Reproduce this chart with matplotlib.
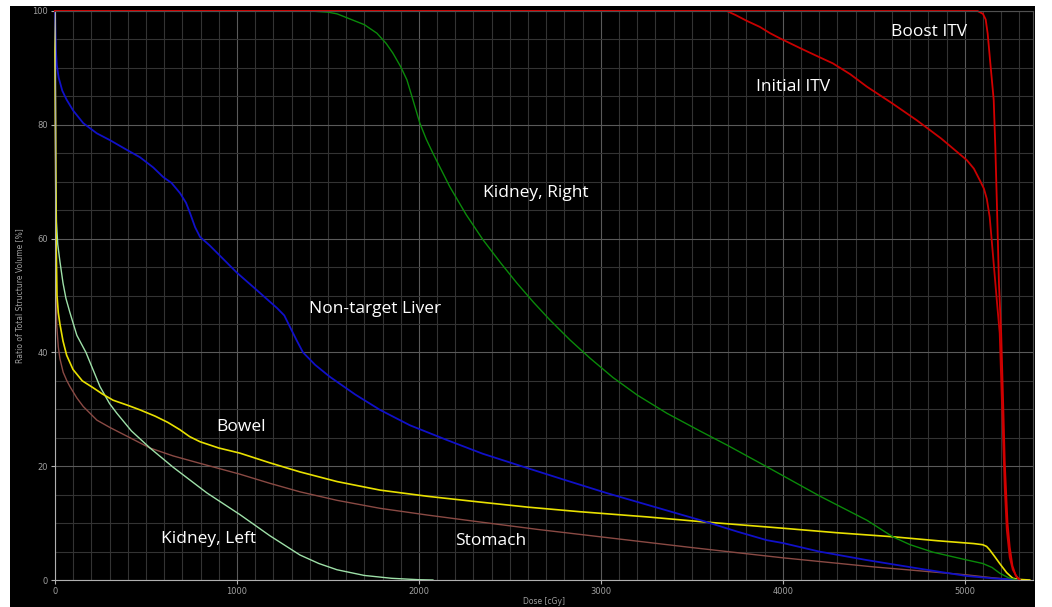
import matplotlib.pyplot as plt
from matplotlib.patches import Rectangle
from matplotlib.ticker import MultipleLocator

# dose [cGy] / volume [%] pairs
boost_dose = [0, 5070, 5100, 5115, 5126, 5140, 5159, 5168, 5176, 5188, 5200,
              5212, 5220, 5235, 5247, 5262, 5280, 5302]
boost_vol = [100, 100, 99.5, 98.5, 96, 91, 84.4, 76, 66.8, 52, 43.4,
             30, 20.5, 10, 5.8, 2.5, 0.8, 0]

initial_dose = [0, 3692, 3740, 3800, 3874, 3930, 3984, 4100, 4200, 4275, 4370,
                4462, 4600, 4736, 4870, 5011, 5050, 5082, 5105, 5121, 5137,
                5154, 5176, 5192, 5209, 5220, 5231, 5247, 5264, 5285, 5302]
initial_vol = [100, 100, 99.3, 98.3, 97.2, 96.1, 95.2, 93.4, 91.9, 90.8, 88.9,
               86.7, 83.8, 80.8, 77.6, 73.8, 72.3, 70.3, 68.8, 67, 63.8,
               57.5, 49.2, 43.4, 26.4, 16, 8.8, 4, 1.8, 0.6, 0]

kidney_r_dose = [0, 1400, 1500, 1550, 1621, 1700, 1769, 1820, 1857, 1900, 1934,
                 1967, 2005, 2040, 2077, 2170, 2260, 2352, 2450, 2538, 2630,
                 2720, 2830, 2940, 3066, 3200, 3363, 3544, 3700, 3912, 4200,
                 4462, 4604, 4700, 4824, 5000, 5099, 5150, 5192, 5240, 5286]
kidney_r_vol = [100, 100, 99.8, 99.5, 98.6, 97.6, 96.1, 94.3, 92.6, 90.2, 87.9,
                84.4, 80.3, 77.5, 75, 69.1, 64.2, 59.8, 55.7, 52.2, 48.8,
                45.7, 42.2, 39, 35.6, 32.5, 29.3, 26.2, 23.6, 19.9, 14.8,
                10.5, 7.6, 6.2, 4.9, 3.6, 2.9, 2.2, 1.2, 0.4, 0]

liver_dose = [0, 2, 5, 10, 20, 40, 64, 100, 155, 230, 302, 400, 467, 540, 595,
              640, 687, 720, 742, 770, 797, 850, 1000, 1100, 1220, 1260, 1291,
              1330, 1363, 1430, 1511, 1650, 1786, 1950, 2154, 2350, 2593, 2800,
              3030, 3300, 3570, 3750, 3912, 4000, 4200, 4462, 4750, 5011, 5150,
              5302]
liver_vol = [100, 97, 93, 90.5, 88.3, 86, 84.4, 82.5, 80.3, 78.5, 77.3, 75.5,
             74.3, 72.5, 70.8, 69.8, 68, 66.3, 64.5, 62, 60.3, 58.8, 54, 51.2,
             47.8, 46.5, 44.5, 42, 40, 37.8, 35.7, 32.6, 29.9, 27.2, 24.6, 22.2,
             19.7, 17.6, 15.3, 12.8, 10.3, 8.5, 7, 6.5, 5, 3.5, 2, 0.7, 0.3, 0]

bowel_dose = [0, 2, 4, 7, 11, 18, 27, 44, 64, 99, 150, 209, 260, 319, 400, 467,
              550, 620, 687, 740, 797, 900, 1016, 1180, 1346, 1550, 1786, 2050,
              2335, 2600, 2885, 3250, 3570, 4000, 4300, 4604, 4850, 5050, 5099,
              5120, 5137, 5165, 5192, 5230, 5264, 5300, 5357]
bowel_vol = [100, 85, 70, 58, 50, 47, 45, 42, 39.5, 37, 35, 33.8, 32.7, 31.6,
             30.7, 29.9, 28.8, 27.7, 26.4, 25.2, 24.3, 23.2, 22.3, 20.6, 19,
             17.3, 15.8, 14.7, 13.7, 12.8, 12, 11.1, 10.2, 9.1, 8.3, 7.6, 6.9,
             6.4, 6.2, 5.9, 5.3, 4.1, 2.9, 1.3, 0.3, 0.1, 0]

stomach_dose = [0, 3, 6, 9, 18, 27, 45, 64, 82, 120, 155, 230, 302, 400, 522,
                650, 797, 1016, 1180, 1346, 1550, 1786, 2050, 2335, 2650, 2995,
                3500, 4000, 4500, 5011, 5150, 5286]
stomach_vol = [100, 75, 55, 45, 41, 38.9, 36.5, 35.1, 34, 32, 30.5, 28.1, 26.8,
               25.2, 23.2, 21.8, 20.5, 18.6, 17, 15.5, 14, 12.6, 11.4, 10.2,
               8.9, 7.6, 5.7, 3.9, 2.3, 0.9, 0.4, 0]

kidney_l_dose = [0, 2, 4, 8, 15, 27, 44, 60, 82, 120, 170, 247, 300, 340, 420,
                 522, 650, 835, 1016, 1180, 1346, 1450, 1550, 1700, 1850, 2000,
                 2077]
kidney_l_vol = [100, 85, 72, 63, 59, 56, 52.2, 49.5, 47, 43, 40, 34, 31, 29.3,
                26.2, 23.2, 19.8, 15.3, 11.5, 7.8, 4.4, 2.9, 1.8, 0.8, 0.3,
                0.05, 0]

labels = ["Boost ITV", "Initial ITV", "Kidney, Right", "Non-target Liver",
          "Bowel", "Kidney, Left", "Stomach"]
label_x = [4802, 4055, 2643, 1758, 1022, 846, 2396]
label_y = [96.3, 86.6, 68, 47.6, 26.9, 7.2, 6.9]

fig = plt.figure(figsize=(10.52, 6.07), dpi=100, facecolor='white')
fig.patches.append(Rectangle((10 / 1052, 0), 1025 / 1052, 601 / 607,
                             transform=fig.transFigure, facecolor='black',
                             edgecolor='none', zorder=-10))
ax = fig.add_axes([55 / 1052, 27 / 607, 978 / 1052, 569 / 607])
ax.set_facecolor('black')

curves = [
    (stomach_dose, stomach_vol, '#8a4a44', 1.0),
    (kidney_l_dose, kidney_l_vol, '#9ee0a8', 1.0),
    (bowel_dose, bowel_vol, '#e8e000', 1.2),
    (liver_dose, liver_vol, '#1010c8', 1.3),
    (kidney_r_dose, kidney_r_vol, '#0a8a0a', 1.0),
    (initial_dose, initial_vol, '#c80000', 1.3),
    (boost_dose, boost_vol, '#d40000', 1.3),
]
for xs, ys, c, lw in curves:
    ax.plot(xs, ys, color=c, lw=lw, clip_on=False, solid_joinstyle='round')

for txt, x, y in zip(labels, label_x, label_y):
    ax.text(x, y, txt, color='white', fontsize=12.5, family='Open Sans',
            ha='center', va='center')

ax.set_xlim(0, 5375)
ax.set_ylim(0, 100)
ax.xaxis.set_major_locator(MultipleLocator(1000))
ax.xaxis.set_minor_locator(MultipleLocator(100))
ax.yaxis.set_major_locator(MultipleLocator(20))
ax.yaxis.set_minor_locator(MultipleLocator(5))
ax.set_axisbelow(True)
ax.grid(which='major', color='#5a5a5a', lw=0.8)
ax.grid(which='minor', color='#333333', lw=0.8)

for side in ['left', 'bottom']:
    ax.spines[side].set_color('#b0b0b0')
for side in ['top', 'right']:
    ax.spines[side].set_color('#505050')

ax.tick_params(which='major', colors='#b0b0b0', length=3, width=0.8,
               labelsize=6, pad=2)
ax.tick_params(which='minor', length=0)
for lab in ax.get_xticklabels() + ax.get_yticklabels():
    lab.set_color('#a0a0a0')

ax.set_xlabel('Dose [cGy]', color='#a0a0a0', fontsize=5.5, labelpad=1)
ax.set_ylabel('Ratio of Total Structure Volume [%]', color='#a0a0a0',
              fontsize=5.5, labelpad=6)

fig.savefig('out.png', dpi=100, facecolor='white')
